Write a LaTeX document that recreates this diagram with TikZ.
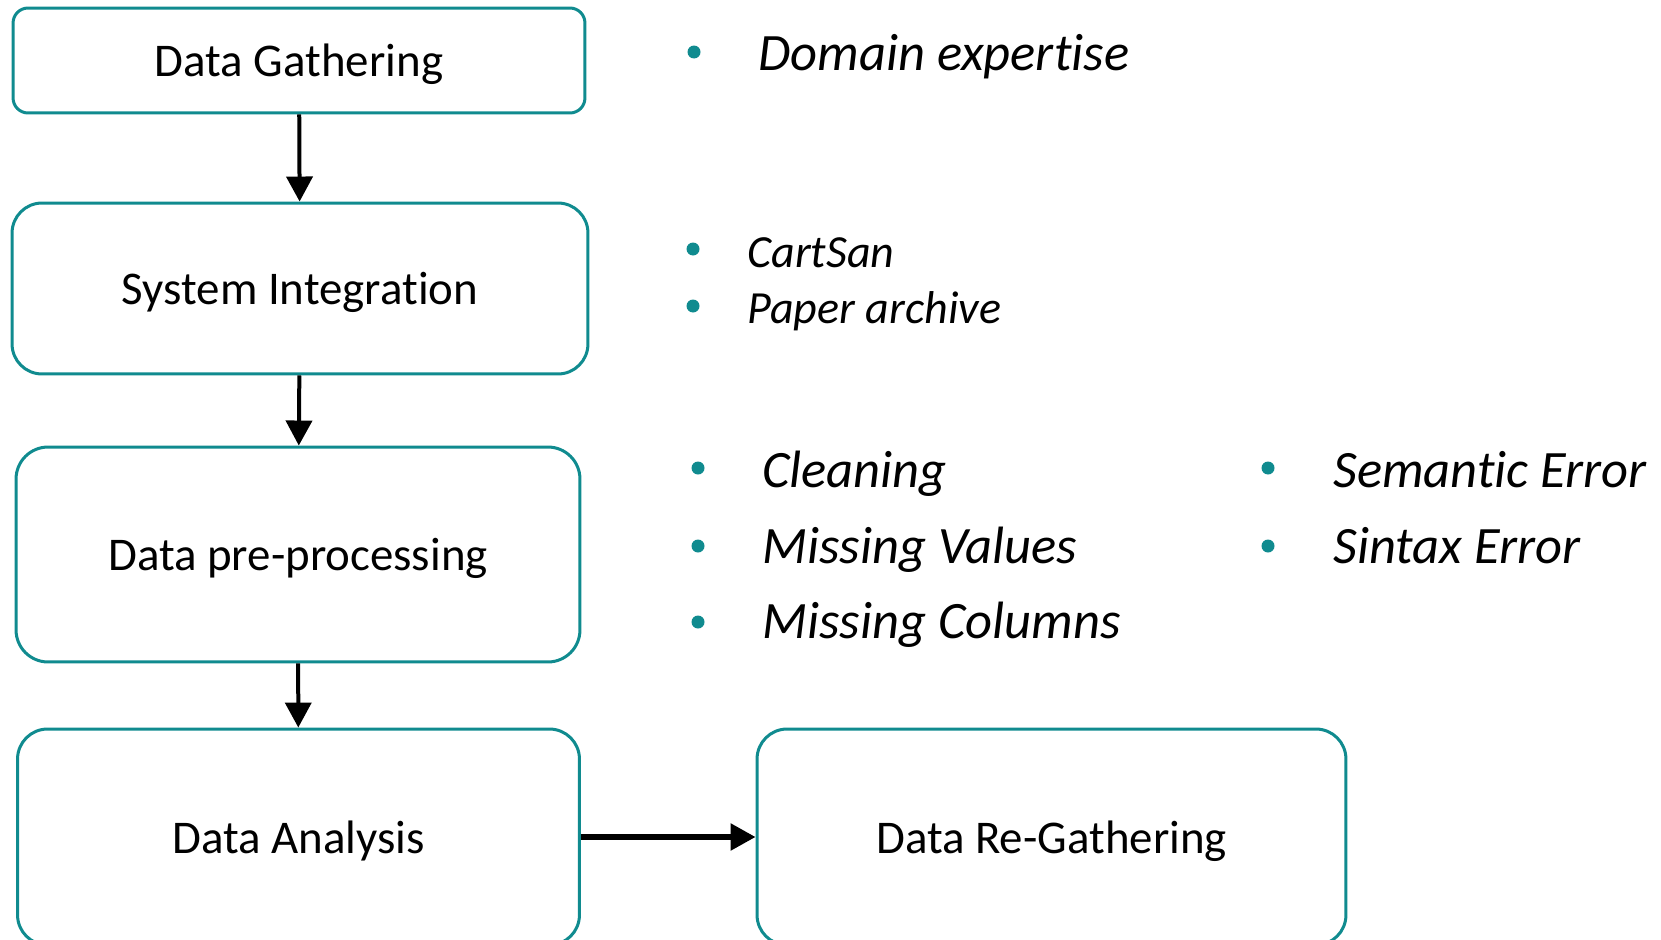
\documentclass[tikz,border=0pt]{standalone}
\usepackage{fontspec}
\setmainfont{Carlito}[Ligatures=NoCommon]
\usepackage{tikz}
\usetikzlibrary{positioning}
\usetikzlibrary{arrows.meta}
\definecolor{stageteal}{RGB}{16,139,143}

\begin{document}
\begin{tikzpicture}[x=0.02cm,y=-0.02cm]
 
 \tikzset{stage box/.style={
 		draw=stageteal,
 		line width=0.06cm,
 		rounded corners=#1,
 		inner sep=0pt,
 		align=center,
 		text height=18.7pt,
 		text depth=0pt,
 		font=\fontsize{26.7}{32}\selectfont
 	},
 	stage box/.default=0.6cm,
 	flow arrow/.style={
 		line width=0.08cm,
 		-{Triangle[length=0.5cm,width=0.52cm]}
 	},
 	item dot/.style={
 		circle, fill=stageteal, inner sep=0pt, minimum size=0.26cm
 	},
 	item text/.style={
 		anchor=base west, inner sep=0pt,
 		font=\fontsize{#1}{#1}\selectfont\itshape
 	},
 	item text/.default=29.9
 }
 \useasboundingbox (0,0) rectangle (1661,940);
 
 % stages
 \node[stage box=0.3cm, minimum width=11.44cm, minimum height=2.1cm] (gather) at (299,60.5) {Data Gathering};
 \node[stage box, minimum width=11.52cm, minimum height=3.42cm] (integr) at (300,288.5) {System Integration};
 \node[stage box=0.64cm, minimum width=11.28cm, minimum height=4.3cm] (preproc) at (298,554.5) {Data pre-processing};
 \node[stage box, minimum width=11.24cm, minimum height=4.32cm] (analysis) at (298.5,837) {Data Analysis};
 \node[stage box, minimum width=11.78cm, minimum height=4.32cm] (regather) at (1051.5,837) {Data Re-Gathering};
 
 \draw[flow arrow] (gather) -- (integr);
 \draw[flow arrow] (integr) -- (preproc);
 \draw[flow arrow] (preproc) -- (analysis);
 \draw[flow arrow, line width=0.11cm] (analysis) -- (regather);
 
 % notes
 \node[item dot] (domaindot) at (694,52) {};
 \node[item text] (domain) at (758,70) {Domain expertise};
 
 \node[item dot] (cartdot) at (693,249) {};
 \node[item text=26.2] (cart) at (747,267) {CartSan};
 \node[item dot] (paperdot) at (693,306) {};
 \node[item text=26.2] (paper) at (747,323) {Paper archive};
 
 \node[item dot] (cleandot) at (698,468) {};
 \node[item text] (clean) at (762,487) {Cleaning};
 \node[item dot] (valuesdot) at (698,546) {};
 \node[item text] (values) at (762,563) {Missing Values};
 \node[item dot] (columnsdot) at (698,622) {};
 \node[item text] (columns) at (762,638) {Missing Columns};
 
 \node[item dot] (semanticdot) at (1268,468) {};
 \node[item text] (semantic) at (1333,487) {Semantic Error};
 \node[item dot] (sintaxdot) at (1268,546) {};
 \node[item text] (sintax) at (1333,563) {Sintax Error};
 
\end{tikzpicture}
\end{document}
